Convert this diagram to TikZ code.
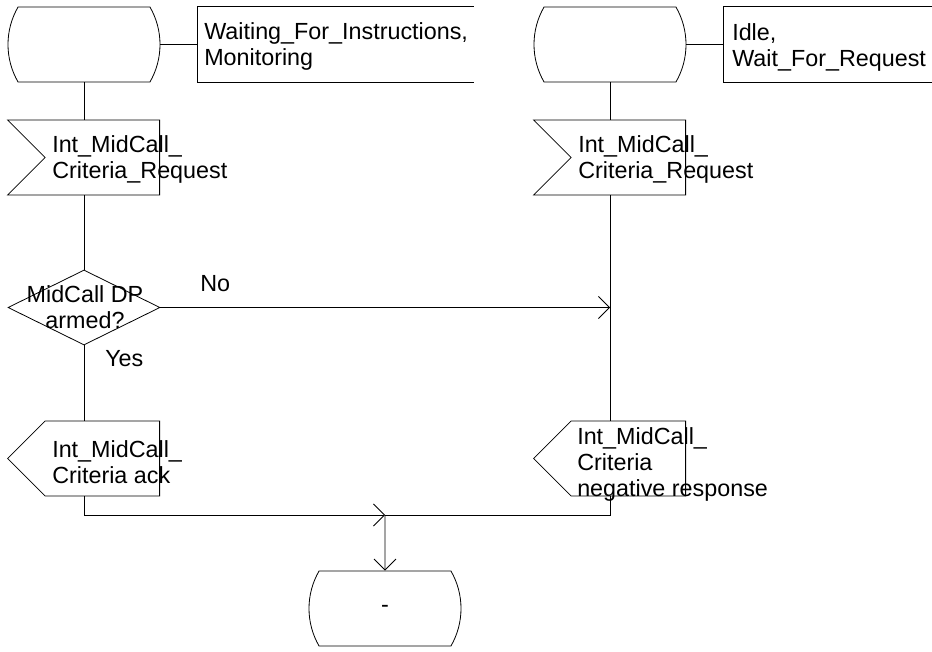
\documentclass[tikz,border=0pt]{standalone}
\usepackage{fontspec}
\setmainfont{Liberation Sans}
\usepackage{tikz}
\usetikzlibrary{arrows.meta,positioning,calc,shapes.misc,shapes.symbols,shapes.geometric}
\tikzset{
  sdl/.style={draw,line width=0.6pt,inner sep=0pt,minimum width=114pt,minimum height=56.25pt},
  sdlstate/.style={sdl,rounded rectangle,rounded rectangle arc length=60},
  sdlin/.style={sdl,signal,signal to=nowhere,signal from=west,anchor=east},
  sdlout/.style={sdl,signal,signal to=west,signal from=nowhere,anchor=east},
  sdlask/.style={sdl,diamond,aspect=2},
  sdlnote/.style={inner sep=0pt,minimum height=56.25pt},
  sdltxt/.style={font=\fontsize{17.5}{19.5}\selectfont,align=left,inner sep=0pt},
  flow/.style={line width=0.6pt},
  barb/.style={-{Straight Barb[length=8.25pt,width=16.5pt]}}
}

\begin{document}
\begin{tikzpicture}[x=0.75pt,y=-0.75pt]
  \useasboundingbox (0,0) rectangle (932,652);
  % left column
  \node[sdlstate] (stL) at (84,44.5) {};
  \node[sdlnote,minimum width=207pt,anchor=west] (noteL) at (197,44.5) {};
  \node[sdlin] (inL) at (160,157.5) {};
  \node[sdlask] (ask) at (84,307.5) {};
  \node[sdlout] (outL) at (160,458.5) {};
  % right column
  \node[sdlstate] (stR) at (610,44.5) {};
  \node[sdlnote,minimum width=156pt,anchor=west] (noteR) at (723,44.5) {};
  \node[sdlin] (inR) at (686,157.5) {};
  \node[sdlout] (outR) at (686,458.5) {};
  % next state
  \node[sdlstate,font=\fontsize{17.5}{19.5}\selectfont] (stB) at (385,608.5) {-};
  % texts (base = last line)
  \node[sdltxt,anchor=base west] (tNoteL) at (204,66) {Waiting\_For\_Instructions,\\Monitoring};
  \node[sdltxt,anchor=base west] (tNoteR) at (732,67) {Idle,\\Wait\_For\_Request};
  \node[sdltxt,anchor=base west] (tInL) at (52,179) {Int\_MidCall\_\\Criteria\_Request};
  \node[sdltxt,anchor=base west] (tInR) at (578,179) {Int\_MidCall\_\\Criteria\_Request};
  \node[sdltxt,align=center,anchor=base] (tAsk) at (85,329) {MidCall DP\\armed?};
  \node[sdltxt,anchor=base west] (tOutL) at (52,483) {Int\_MidCall\_\\Criteria ack};
  \node[sdltxt,anchor=base west] (tOutR) at (577,496) {Int\_MidCall\_\\Criteria\\negative response};
  \node[sdltxt,anchor=base west] (tNo) at (200,292) {No};
  \node[sdltxt,anchor=base west] (tYes) at (105,367) {Yes};
  % note brackets
  \draw[flow] (noteL.north east) -- (noteL.north west) -- (noteL.south west) -- (noteL.south east);
  \draw[flow] (noteR.north east) -- (noteR.north west) -- (noteR.south west) -- (noteR.south east);
  % flow lines
  \coordinate (hitR) at (ask.east -| stR.south);
  \coordinate (mrg) at (385,515);
  \draw[flow] (stL.east) -- (noteL.west);
  \draw[flow] (stR.east) -- (noteR.west);
  \draw[flow] (stL.south) -- (stL.south |- inL.north);
  \draw[flow] (stL.south |- inL.south) -- (ask.north);
  \draw[flow] (ask.south) -- (ask.south |- outL.north);
  \draw[flow,barb] (ask.east) -- (hitR);
  \draw[flow] (stR.south) -- (stR.south |- inR.north);
  \draw[flow] (stR.south |- inR.south) -- (stR.south |- outR.north);
  \draw[flow,barb] (ask.south |- outL.south) |- (mrg);
  \draw[flow] (stR.south |- outR.south) |- (mrg);
  \draw[flow,barb] (mrg) -- (stB);
\end{tikzpicture}
\end{document}
